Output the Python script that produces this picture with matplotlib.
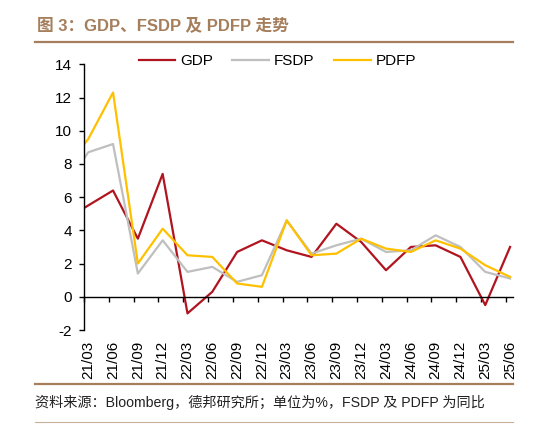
import numpy as np
import matplotlib
matplotlib.use('Agg')
import matplotlib.pyplot as plt
from matplotlib.lines import Line2D

plt.rcParams['font.family'] = ['Liberation Sans', 'Noto Sans CJK SC', 'DejaVu Sans']
plt.rcParams['axes.unicode_minus'] = False

# quarterly data, first point (20/12) only shows as the clipped stub at the axis
labels = ['21/03', '21/06', '21/09', '21/12', '22/03', '22/06', '22/09', '22/12',
          '23/03', '23/06', '23/09', '23/12', '24/03', '24/06', '24/09', '24/12',
          '25/03', '25/06']
gdp_prev, fsdp_prev, pdfp_prev = 4.6, 6.5, 7.6
gdp = [5.5, 6.4, 3.5, 7.4, -1.0, 0.3, 2.7, 3.4, 2.8, 2.4, 4.4, 3.3, 1.6, 3.0, 3.1, 2.4, -0.5, 3.0]
fsdp = [8.7, 9.2, 1.4, 3.4, 1.5, 1.8, 0.9, 1.3, 4.6, 2.6, 3.1, 3.5, 2.7, 2.8, 3.7, 3.0, 1.5, 1.1]
pdfp = [9.5, 12.3, 2.0, 4.1, 2.5, 2.4, 0.8, 0.6, 4.6, 2.5, 2.6, 3.5, 2.9, 2.7, 3.4, 2.9, 1.9, 1.2]

brown = '#A57E5C'
W, H = 556, 428
fig = plt.figure(figsize=(W / 100, H / 100), dpi=100)

# header and footer
fig.text(37 / W, 1 - 25 / H, '图 3：GDP、FSDP 及 PDFP 走势', color=brown,
         fontsize=12, fontweight='bold', va='center', ha='left')
fig.add_artist(Line2D([35 / W, 513 / W], [1 - 42 / H] * 2, color=brown, lw=1.6))
fig.add_artist(Line2D([35 / W, 513 / W], [1 - 383.5 / H] * 2, color=brown, lw=1.6))
fig.add_artist(Line2D([35 / W, 513 / W], [1 - 422 / H] * 2, color='#C9B09A', lw=0.8))
fig.text(35 / W, 1 - 402 / H, '资料来源：Bloomberg，德邦研究所；单位为%，FSDP 及 PDFP 为同比',
         fontsize=10.2, va='center', ha='left', color='#222222')

ax = fig.add_axes([84 / W, 1 - 330 / H, (513.3 - 84) / W, (330 - 64.3) / H])

x = np.arange(-1, len(labels))
ax.plot(x, [gdp_prev] + gdp, color='#B0141F', lw=1.6, label='GDP')
ax.plot(x, [fsdp_prev] + fsdp, color='#BFBFBF', lw=1.6, label='FSDP')
ax.plot(x, [pdfp_prev] + pdfp, color='#FFC000', lw=1.6, label='PDFP')

ax.set_xlim(-0.17, len(labels) - 1 + 0.13)
ax.set_ylim(-2, 14)
ax.set_yticks(np.arange(-2, 15, 2))

for s in ['top', 'right']:
    ax.spines[s].set_visible(False)
ax.spines['bottom'].set_position(('data', 0))
ax.spines['left'].set_linewidth(1.0)
ax.spines['bottom'].set_linewidth(1.0)

# labels centred on the data points, tick marks slightly to the left
ax.set_xticks(np.arange(len(labels)))
ax.set_xticklabels(labels, rotation=90, fontsize=11)
ax.set_xticks(np.arange(len(labels)) - 0.17, minor=True)
ax.tick_params(axis='x', which='major', length=0, pad=31.5)
ax.tick_params(axis='x', which='minor', length=3.3, width=1.0, direction='out')
ax.tick_params(axis='y', length=3.3, width=1.0, direction='out', pad=5.5, labelsize=11)

ax.legend(loc='center', bbox_to_anchor=(0.45, 1.012), ncol=3, frameon=False,
          fontsize=11, handlelength=2.4, handletextpad=0.3, columnspacing=1.3)

fig.savefig('out.png', dpi=100)
